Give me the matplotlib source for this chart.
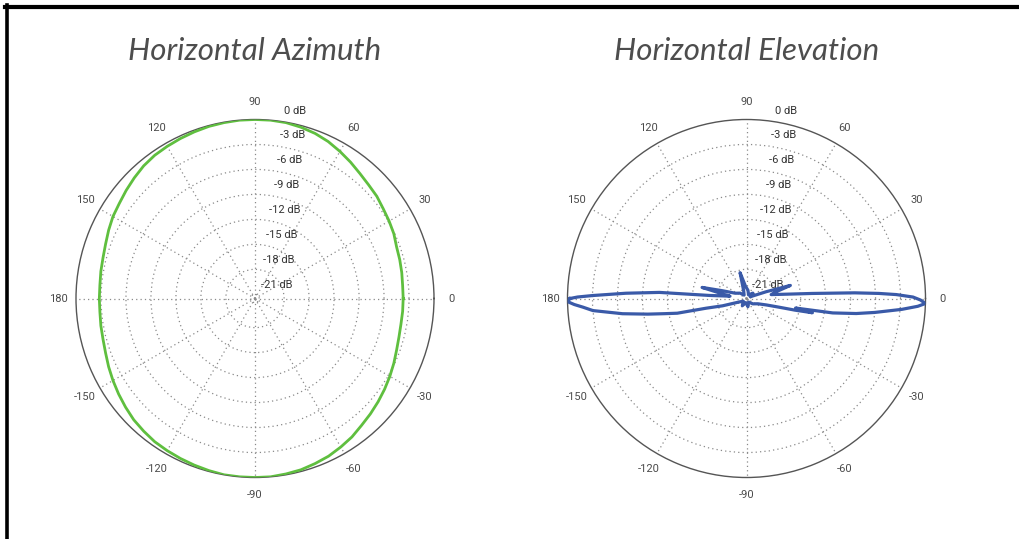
import numpy as np
import matplotlib
matplotlib.use("Agg")
import matplotlib.pyplot as plt
from matplotlib.lines import Line2D

# ---- data ----
db_rings = [0, -3, -6, -9, -12, -15, -18, -21]
angle_ticks = [0, 30, 60, 90, 120, 150, 180, 210, 240, 270, 300, 330]
angle_labels = ['0', '30', '60', '90', '120', '150', '180',
                '-150', '-120', '-90', '-60', '-30']

# azimuth pattern, every 5 degrees
az_deg = list(range(0, 365, 5))
az_db = [-3.7, -3.7, -3.6, -3.5, -3.4, -3.1, -2.9, -2.7, -2.4, -2.2,
         -1.9, -1.5, -1.1, -0.7, -0.4, -0.2, -0.05, 0.0, 0.0,
         0.0, -0.05, -0.1, -0.2, -0.3, -0.4, -0.5, -0.7, -1.0, -1.3,
         -1.6, -1.8, -2.1, -2.4, -2.6, -2.7, -2.8, -2.8,
         -2.8, -2.7, -2.6, -2.4, -2.1, -1.8, -1.5, -1.2, -0.9, -0.7,
         -0.5, -0.4, -0.3, -0.2, -0.1, 0.0, 0.0, 0.0,
         0.0, -0.1, -0.2, -0.4, -0.6, -0.9, -1.2, -1.6, -1.9, -2.2,
         -2.5, -2.8, -3.1, -3.4, -3.6, -3.7, -3.7, -3.7]

# elevation pattern
el_deg = [-180, -179, -178, -177, -175.5, -173, -171, -169.5, -168, -166.5,
          -163, -155, -140, -120, -100, -80, -60, -40, -25, -18, -15,
          -13.5, -12.2, -11, -9.5, -7.8, -6.2, -4, -2.6, -1.6, -0.5, 0.5,
          1.5, 2.2, 3, 4.4, 6, 9, 13, 16.6, 19, 25, 40, 60, 80, 95, 104,
          110, 125, 140, 155, 162, 166, 169, 172, 175.3, 176, 177.5, 178.9,
          179.5, 180]
el_db = [-0.3, 0.0, -0.8, -1.8, -3.0, -6.5, -9.5, -11.5, -13.0, -16.5,
         -18.5, -20.5, -21.0, -20.5, -21.0, -20.5, -21.0, -20.5, -20.0,
         -19.0, -17.5, -15.5, -13.4, -15.5, -11.0, -8.2, -6.0, -2.8, -0.9,
         0.0, -0.6, -1.5, -3.5, -5.6, -8.5, -13.6, -16.5, -18.5, -17.8,
         -16.0, -19.0, -21.0, -20.5, -21.0, -20.5, -20.0, -18.3, -20.5,
         -21.0, -20.5, -20.0, -18.5, -16.0, -18.5, -19.5, -17.0, -11.0,
         -7.0, -3.0, -1.2, -0.3]

R_MIN = -21.5
W, H = 1019, 539

fig = plt.figure(figsize=(W / 100, H / 100), dpi=100)
fig.patch.set_facecolor('white')


def polar_panel(cx, title, deg, db, color, lw):
    R = 179
    cy = 298.5
    ax = fig.add_axes([(cx - R) / W, (H - cy - R) / H, 2 * R / W, 2 * R / H],
                      projection='polar')
    ax.plot(np.deg2rad(deg), db, color=color, lw=lw, solid_joinstyle='round',
            zorder=5)
    ax.set_rlim(R_MIN, 0)
    ax.set_yticks(db_rings[1:])
    ax.set_yticklabels([])
    ax.set_thetagrids(angle_ticks, angle_labels)
    ax.tick_params(axis='x', pad=2, labelsize=8, labelcolor='#4a4a4a')
    for t in ax.get_xticklabels():
        t.set_fontfamily('Roboto')
    ax.grid(True, color='#8a8a8a', lw=0.9, linestyle=(0, (1, 2.5)))
    ax.spines['polar'].set_color('#555555')
    ax.spines['polar'].set_linewidth(1.0)

    # dB labels stacked just above each ring
    for lev in db_rings:
        f = (lev - R_MIN) / (0 - R_MIN)
        dx = 21 + 19 * f
        dy = f * R + 9
        ax.text(0.5 + dx / (2 * R), 0.5 + dy / (2 * R), f'{lev} dB',
                transform=ax.transAxes, ha='center', va='center',
                fontsize=8, color='#333333', family='Roboto')

    fig.text(cx / W, 1 - 51 / H, title, ha='center', va='center',
             fontsize=22.5, style='italic', color='#4d4d4d', family='Lato')
    return ax


polar_panel(255, 'Horizontal Azimuth', az_deg, az_db, '#5fbf3f', 2.0)
polar_panel(746.5, 'Horizontal Elevation', el_deg, el_db, '#3a5aa8', 2.3)

# black frame along the top and left edges
fig.add_artist(Line2D([5 / W, 1], [1 - 7 / H, 1 - 7 / H], color='black',
                      lw=3, transform=fig.transFigure))
fig.add_artist(Line2D([6.5 / W, 6.5 / W], [0, 1 - 5 / H], color='black',
                      lw=2.6, transform=fig.transFigure))

fig.savefig('out.png', dpi=100, facecolor='white')
